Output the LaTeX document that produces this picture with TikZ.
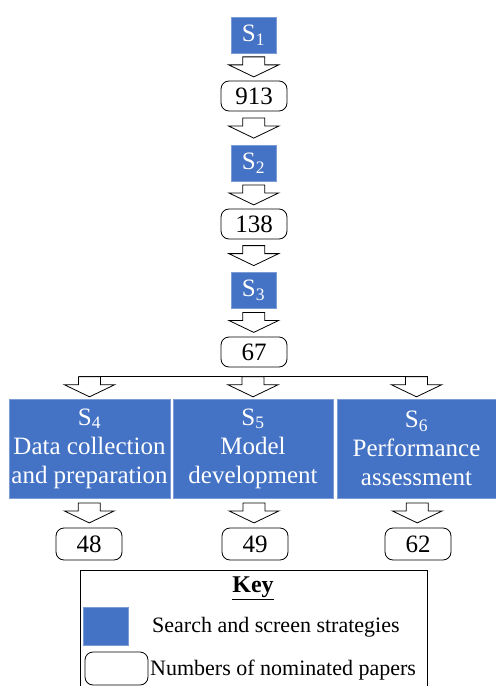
\documentclass[tikz,border=0pt]{standalone}
\usepackage{fontspec}
\IfFontExistsTF{LiberationSerif-Regular.ttf}
  {\setmainfont{LiberationSerif}[Extension=.ttf, UprightFont=*-Regular, BoldFont=*-Bold, ItalicFont=*-Italic, BoldItalicFont=*-BoldItalic]}
  {\setmainfont{Liberation Serif}}
\usetikzlibrary{calc, positioning}
\definecolor{stepblue}{HTML}{4472C4}

\begin{document}
\begin{tikzpicture}[
    x=1bp, y=-1bp,
    search/.style={rectangle, fill=stepblue, draw=stepblue!70!white, line width=0.4bp, text=white, minimum width=45bp, minimum height=36bp, inner sep=0pt, font=\fontsize{25bp}{29bp}\selectfont},
    stage/.style={search, align=center, minimum height=99bp},
    count/.style={rectangle, draw, rounded corners=8bp, fill=white, line width=0.8bp, minimum width=66bp, minimum height=30bp, inner sep=0pt, font=\fontsize{25bp}{29bp}\selectfont},
    keytext/.style={anchor=west, inner sep=0pt, font=\fontsize{22bp}{26bp}\selectfont},
    hollowarrow/.pic={\draw[line width=0.8bp, fill=white] (-11,-10) -- (-11,-2) -- (-25,-2) -- (0,10) -- (25,-2) -- (11,-2) -- (11,-10) -- cycle;}
]
\useasboundingbox (0,0) rectangle (496,686);

% Search and screen chain
\node[search] (s1) at (253.5,35) {S\textsubscript{1}};
\node[count] (n913) at (254,96) {913};
\node[search] (s2) at (253.5,163) {S\textsubscript{2}};
\node[count] (n138) at (254,224) {138};
\node[search] (s3) at (253.5,290) {S\textsubscript{3}};
\node[count] (n67) at (254,352) {67};

\pic at ($(s1.south)!0.5!(n913.north)$) {hollowarrow};
\pic at ($(n913.south)!0.5!(s2.north)$) {hollowarrow};
\pic at ($(s2.south)!0.5!(n138.north)$) {hollowarrow};
\pic at ($(n138.south)!0.5!(s3.north)$) {hollowarrow};
\pic at ($(s3.south)!0.5!(n67.north)$) {hollowarrow};

% Three strategies
\node[stage, minimum width=161bp] (s4) at (89.5,448.5) {S\textsubscript{4}\\Data collection\\and preparation};
\node[stage, minimum width=160bp] (s5) at (253,448.5) {S\textsubscript{5}\\Model\\development};
\node[stage, minimum width=159bp] (s6) at (416.5,448.5) {S\textsubscript{6}\\Performance\\assessment};

\coordinate (busleft) at ($(s4.north)+(-11,-22)$);
\coordinate (busright) at ($(s6.north)+(11,-22)$);
\draw[line width=0.8bp] (busleft) -- (busright);
\pic at ($(s4.north)+(0,-12)$) {hollowarrow};
\pic at ($(s5.north)+(0,-12)$) {hollowarrow};
\pic at ($(s6.north)+(0,-12)$) {hollowarrow};

% Nominated papers
\node[count, minimum height=32bp] (n48) at (89,544) {48};
\node[count, minimum height=32bp] (n49) at (255,544) {49};
\node[count, minimum height=32bp] (n62) at (418,544) {62};

\pic at ($(s4.south)!0.5!(n48.north)$) {hollowarrow};
\pic at ($(s5.south)!0.5!(n49.north)$) {hollowarrow};
\pic at ($(s6.south)!0.5!(n62.north)$) {hollowarrow};

% Key
\draw[line width=0.8bp] (80,686) -- (80,570) -- (427,570) -- (427,686);
\node[font=\bfseries\fontsize{24bp}{28bp}\selectfont] (keytitle) at (253,588) {\underline{Key}};
\node[search, minimum width=45bp, minimum height=38bp] (keysearch) at (105.5,626) {};
\node[keytext] (keysearchtext) at (152,627) {Search and screen strategies};
\node[count, minimum width=63bp, minimum height=33bp] (keycount) at (116.5,668.5) {};
\node[keytext] (keycounttext) at (150,670) {Numbers of nominated papers};

\end{tikzpicture}
\end{document}
